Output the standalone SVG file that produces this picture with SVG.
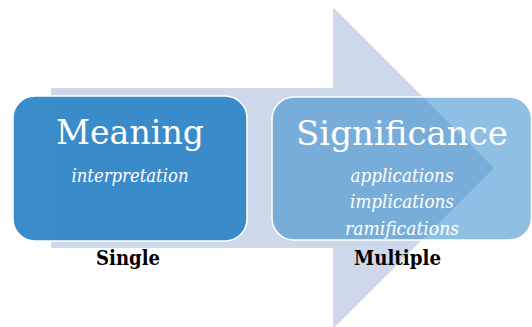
<svg xmlns="http://www.w3.org/2000/svg" width="532" height="327" viewBox="0 0 532 327">
<style>
.title{font-family:"DejaVu Serif","Liberation Serif",serif;font-size:34px;fill:#ffffff;text-anchor:middle}
.sub{font-family:"DejaVu Serif","Liberation Serif",serif;font-size:18px;font-style:italic;fill:#ffffff;text-anchor:middle}
.lbl{font-family:"DejaVu Serif","Liberation Serif",serif;font-size:20px;font-weight:bold;fill:#000000;text-anchor:middle}
.box{stroke:#ffffff;stroke-width:1.5}
</style>
<rect width="532" height="327" fill="#ffffff"/>
<g id="connectors">
<polygon points="51,88 333,88 333,7 494,168 333,329 333,248 51,248" fill="#cdd8ea"/>
</g>
<g id="meaning">
<rect class="box" x="13" y="96" width="234" height="145" rx="22" fill="#3588c8" fill-opacity="0.97"/>
<text class="title" x="130" y="144" textLength="148" lengthAdjust="spacingAndGlyphs">Meaning</text>
<text class="sub" x="130" y="182" textLength="117" lengthAdjust="spacingAndGlyphs">interpretation</text>
</g>
<g id="significance">
<rect class="box" x="272" y="97" width="259.5" height="143" rx="22" fill="#338bca" fill-opacity="0.55"/>
<text class="title" x="402" y="145" textLength="212" lengthAdjust="spacingAndGlyphs">Significance</text>
<text class="sub" x="402" y="182" textLength="103" lengthAdjust="spacingAndGlyphs">applications</text>
<text class="sub" x="402" y="208" textLength="104" lengthAdjust="spacingAndGlyphs">implications</text>
<text class="sub" x="402" y="235" textLength="114" lengthAdjust="spacingAndGlyphs">ramifications</text>
</g>
<g id="single">
<text class="lbl" x="128" y="265" textLength="64" lengthAdjust="spacingAndGlyphs">Single</text>
</g>
<g id="multiple">
<text class="lbl" x="397.5" y="265" textLength="87" lengthAdjust="spacingAndGlyphs">Multiple</text>
</g>
</svg>
